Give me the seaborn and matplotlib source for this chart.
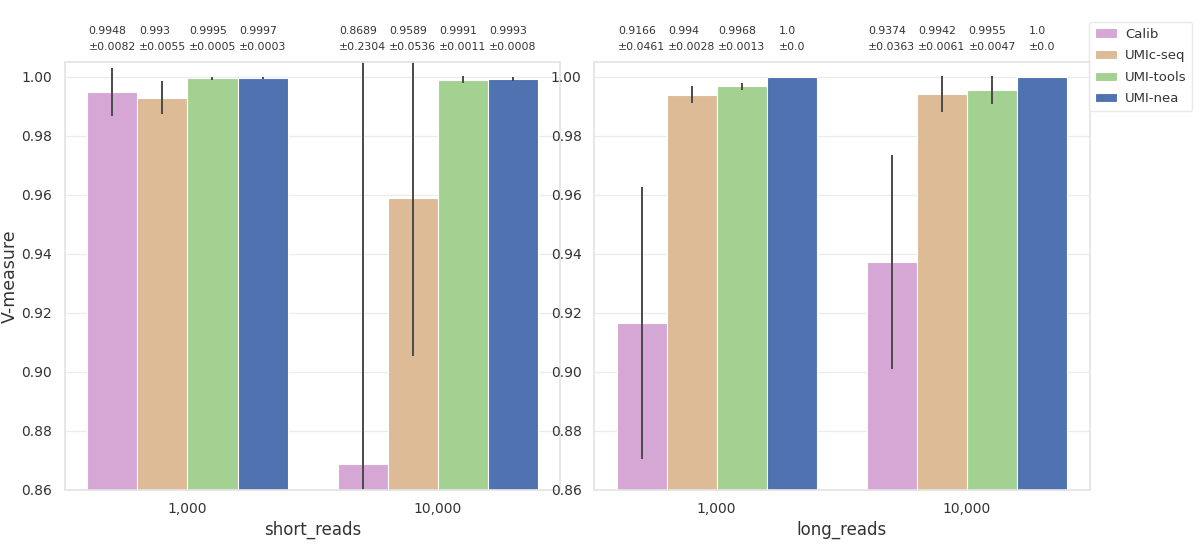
import numpy as np
import matplotlib
matplotlib.use("Agg")
import matplotlib.pyplot as plt
import seaborn as sns
import pandas as pd

tools = ["Calib", "UMIc-seq", "UMI-tools", "UMI-nea"]
read_counts = ["1,000", "10,000"]
colors = ["#d6a6d4", "#dcbb96", "#a2d192", "#4f73b0"]

# mean V-measure, per tool, for 1,000 and 10,000 reads
short_mean = {
    "Calib": [0.9948, 0.8689],
    "UMIc-seq": [0.993, 0.9589],
    "UMI-tools": [0.9995, 0.9991],
    "UMI-nea": [0.9997, 0.9993],
}
short_std = {
    "Calib": [0.0082, 0.2304],
    "UMIc-seq": [0.0055, 0.0536],
    "UMI-tools": [0.0005, 0.0011],
    "UMI-nea": [0.0003, 0.0008],
}
long_mean = {
    "Calib": [0.9166, 0.9374],
    "UMIc-seq": [0.994, 0.9942],
    "UMI-tools": [0.9968, 0.9955],
    "UMI-nea": [1.0, 1.0],
}
long_std = {
    "Calib": [0.0461, 0.0363],
    "UMIc-seq": [0.0028, 0.0061],
    "UMI-tools": [0.0013, 0.0047],
    "UMI-nea": [0.0, 0.0],
}


def to_frame(means, stds):
    rows = []
    for tool in tools:
        for i, rc in enumerate(read_counts):
            rows.append({"reads": rc, "tool": tool,
                         "mean": means[tool][i], "std": stds[tool][i]})
    return pd.DataFrame(rows)


sns.set_theme(style="whitegrid", rc={
    "grid.color": "#ebebeb",
    "axes.edgecolor": "#e4e4e4",
    "grid.linewidth": 0.9,
})
fig = plt.figure(figsize=(12, 5.46), dpi=100)
ax1 = fig.add_axes([0.054, 0.103, 0.413, 0.783])
ax2 = fig.add_axes([0.495, 0.103, 0.413, 0.783])

panels = [
    (ax1, to_frame(short_mean, short_std), "short_reads"),
    (ax2, to_frame(long_mean, long_std), "long_reads"),
]

for ax, df, xlabel in panels:
    sns.barplot(data=df, x="reads", y="mean", hue="tool",
                hue_order=tools, order=read_counts,
                palette=colors, saturation=1, errorbar=None, ax=ax,
                edgecolor="white", linewidth=0.8)

    for tool, cont in zip(tools, ax.containers):
        sub = df[df["tool"] == tool].set_index("reads").loc[read_counts]
        xs = [p.get_x() + p.get_width() / 2 for p in cont.patches]
        ax.errorbar(xs, sub["mean"], yerr=sub["std"], fmt="none",
                    ecolor="#4a4a4a", elinewidth=1.4, capsize=0)
        for x, m, s in zip(xs, sub["mean"], sub["std"]):
            ax.text(x, 1.025, f"{round(m, 4)}\n\u00b1{round(s, 4)}",
                    transform=ax.get_xaxis_transform(),
                    ha="center", va="bottom", multialignment="left",
                    fontsize=7.8, linespacing=1.75, color="#333333")

    ax.set_ylim(0.86, 1.005)
    ax.set_yticks(np.arange(0.86, 1.001, 0.02))
    ax.set_yticklabels([f"{v:.2f}" for v in np.arange(0.86, 1.001, 0.02)])
    ax.set_xlabel(xlabel, fontsize=12, color="#333333", labelpad=3)
    ax.set_ylabel("")
    ax.tick_params(axis="both", labelsize=10, colors="#333333", pad=3)
    ax.legend_.remove()

ax1.set_ylabel("V-measure", fontsize=12.5, color="#333333")
ax1.yaxis.set_label_coords(-0.092, 0.5)

handles, labels = ax2.get_legend_handles_labels()
leg = fig.legend(handles, labels, loc="upper left",
                 bbox_to_anchor=(0.905, 0.965), fontsize=9.5,
                 frameon=True, handlelength=1.7, labelspacing=0.65,
                 borderpad=0.45, handletextpad=0.6, borderaxespad=0.2)
leg.get_frame().set_edgecolor("#e4e4e4")
for t in leg.get_texts():
    t.set_color("#333333")

fig.savefig("out.png", dpi=100)
